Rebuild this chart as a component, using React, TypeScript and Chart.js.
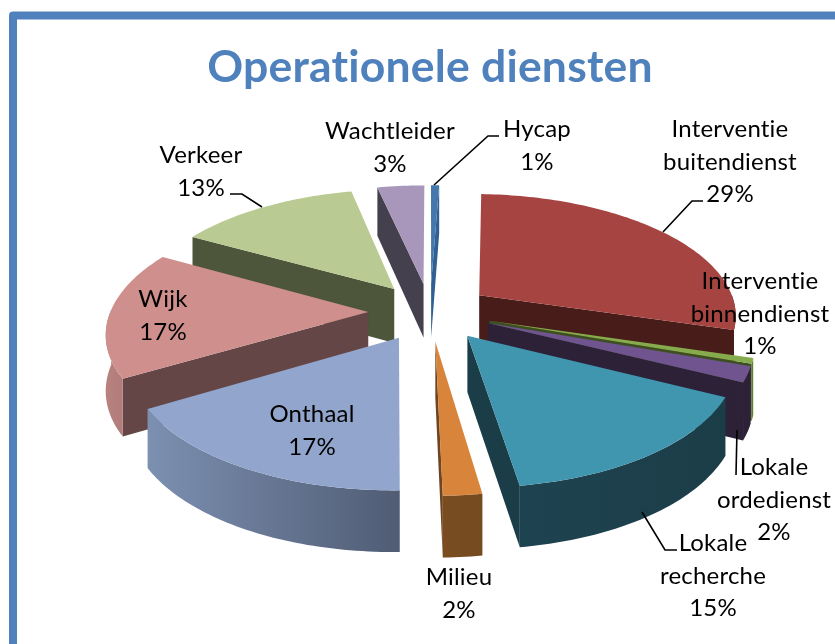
import React, { useEffect, useRef } from "react";
import { Chart, registerables } from "chart.js";

Chart.register(...registerables);

const categories = [
  "Hycap",
  "Interventie buitendienst",
  "Interventie binnendienst",
  "Lokale ordedienst",
  "Lokale recherche",
  "Milieu",
  "Onthaal",
  "Wijk",
  "Verkeer",
  "Wachtleider",
];
const shares = [0.6, 29, 0.7, 2, 15.3, 2, 16.8, 16.6, 13.4, 3.45];

const topColors = ["#4377AD", "#A64441", "#86AB4C", "#705490", "#4096AE", "#D9843B", "#92A6CD", "#CF8F8D", "#B9CB92", "#A897BB"];
const faceColors = ["#2F5F93", "#481C19", "#3C4F20", "#2D2138", "#1B3D48", "#6E4520", "#5A6A88", "#654646", "#4D553A", "#45404E"];
const wallLeft = ["#2F5F93", "#4A1C19", "#5F8030", "#2D2138", "#1E4350", "#7A4C20", "#7C90B1", "#B9827F", "#4D553A", "#45404E"];
const wallRight = ["#2F5F93", "#481C19", "#5F8030", "#2D2138", "#1B3D48", "#744A20", "#505C74", "#B07C7A", "#4D553A", "#45404E"];

// label placement, in slice order: centre of the text block
const labelCentres = [
  [537, 146], [730, 162], [760, 314], [774, 500], [713, 576],
  [459, 594], [312, 431], [163, 316], [201, 172], [390, 148],
];
const leaders = [
  [[434, 185], [488, 136], [499, 136]],
  [[663, 232], [692, 201], [703, 201]],
  [],
  [[737, 430], [736, 475]],
  [[642, 512], [665, 550], [677, 550]],
  [], [], [],
  [[230, 194], [242, 194], [262, 207]],
  [],
];

const EXPLODE_OFFSET = 45.4;
const SCALE_X = 1.36;
const SCALE_Y = 0.638;
const PERSPECTIVE = 0.15;
const DEPTH = 55;
const LABEL_FONT = '24px Lato, "Open Sans", sans-serif';
const LINE_HEIGHT = 32.5;

const pie3d = {
  id: "pie3d",
  beforeDraw(chart: any) {
    const { ctx } = chart;
    ctx.save();
    ctx.strokeStyle = "#4F81BD";
    ctx.lineWidth = 8;
    ctx.lineJoin = "round";
    ctx.strokeRect(13, 15.5, 1000, 1000);
    ctx.restore();
    // a non-zero tracking stops the "ti" ligature of the font
    ctx.letterSpacing = "0.2px";
  },
  beforeDatasetsDraw(chart: any) {
    const { ctx } = chart;
    const arcs = chart.getDatasetMeta(0).data;

    const project = (el: any, u: number, v: number) => {
      const k = 1 / (1 - PERSPECTIVE * v);
      const R = el.outerRadius;
      return [el.x + R * SCALE_X * u * k, el.y + R * SCALE_Y * v * k];
    };

    const order = arcs
      .map((el: any, i: number) => ({ el, i, key: Math.sin((el.startAngle + el.endAngle) / 2) }))
      .sort((a: any, b: any) => a.key - b.key);

    for (const { el, i } of order) {
      const a = el.startAngle;
      const b = el.endAngle;
      const mid = (a + b) / 2;
      const e = el.options.offset / el.outerRadius;
      const ou = Math.cos(mid) * e;
      const ov = Math.sin(mid) * e;
      const pt = (ang: number) => {
        const u = ou + Math.cos(ang);
        const v = ov + Math.sin(ang);
        return { p: project(el, u, v), v, ang };
      };
      const drop = (q: any) => [q.p[0], q.p[1] + DEPTH * (1 + 0.1 * q.v)];
      const apex = { p: project(el, ou, ov), v: ov, ang: mid };
      const steps = Math.max(4, Math.ceil((b - a) / 0.02));
      const rim: any[] = [];
      for (let s = 0; s <= steps; s++) rim.push(pt(a + ((b - a) * s) / steps));

      const fillPoly = (pts: number[][], fill: any) => {
        ctx.beginPath();
        pts.forEach((q, n) => (n ? ctx.lineTo(q[0], q[1]) : ctx.moveTo(q[0], q[1])));
        ctx.closePath();
        ctx.fillStyle = fill;
        ctx.fill();
      };

      // cut faces seen by the viewer
      if (Math.cos(a) < 0) {
        const q = rim[0];
        fillPoly([apex.p, q.p, drop(q), drop(apex)], faceColors[i]);
      }
      if (Math.cos(b) > 0) {
        const q = rim[rim.length - 1];
        fillPoly([apex.p, q.p, drop(q), drop(apex)], faceColors[i]);
      }

      // outer wall, front part of the rim
      const front = rim.filter((q) => Math.sin(q.ang) >= -0.02);
      if (front.length > 1) {
        const pts = [...front.map((q) => q.p), ...front.slice().reverse().map(drop)];
        const xs = pts.map((q) => q[0]);
        const g = ctx.createLinearGradient(Math.min(...xs), 0, Math.max(...xs), 0);
        g.addColorStop(0, wallLeft[i]);
        g.addColorStop(1, wallRight[i]);
        fillPoly(pts, g);
      }

      // top of the slice
      fillPoly([apex.p, ...rim.map((q) => q.p)], el.options.backgroundColor);
    }

    // leader lines
    ctx.save();
    ctx.strokeStyle = "#000";
    ctx.lineWidth = 1.6;
    for (const line of leaders) {
      if (!line.length) continue;
      ctx.beginPath();
      line.forEach((q, n) => (n ? ctx.lineTo(q[0], q[1]) : ctx.moveTo(q[0], q[1])));
      ctx.stroke();
    }
    ctx.restore();

    // labels
    const values = chart.data.datasets[0].data;
    const total = values.reduce((s: number, x: number) => s + x, 0);
    ctx.save();
    ctx.font = LABEL_FONT;
    ctx.fillStyle = "#000";
    ctx.textAlign = "center";
    ctx.textBaseline = "middle";
    chart.data.labels.forEach((name: string, i: number) => {
      const lines = [...name.split(" "), `${Math.round((values[i] / total) * 100)}%`];
      const [cx, cy] = labelCentres[i];
      lines.forEach((t, n) => {
        ctx.fillText(t, cx, cy + (n - (lines.length - 1) / 2) * LINE_HEIGHT);
      });
    });
    ctx.restore();
    return false;
  },
};

export default function App() {
  const ref = useRef<HTMLCanvasElement>(null);
  useEffect(() => {
    const chart = new Chart(ref.current as HTMLCanvasElement, {
      type: "pie",
      data: {
        labels: categories,
        datasets: [
          {
            data: shares,
            backgroundColor: topColors,
            borderWidth: 0,
            offset: EXPLODE_OFFSET,
          },
        ],
      },
      options: {
        responsive: false,
        animation: false,
        layout: { padding: { left: 25, bottom: 120 } },
        events: [],
        plugins: {
          legend: { display: false },
          tooltip: { enabled: false },
          title: {
            display: true,
            fullSize: false,
            text: "Operationele diensten",
            color: "#4F81BD",
            font: { family: 'Lato, "Open Sans", sans-serif', size: 44.5, weight: "bold" },
            padding: { top: 41, bottom: 5 },
          },
        },
      },
      plugins: [pie3d],
    } as any);
    return () => chart.destroy();
  }, []);
  return (
    <div style={{ position: "fixed", left: 0, top: 0, width: 835, height: 644, background: "#fff", overflow: "hidden" }}>
      <canvas ref={ref} width={835} height={644} style={{ display: "block" }} />
    </div>
  );
}
